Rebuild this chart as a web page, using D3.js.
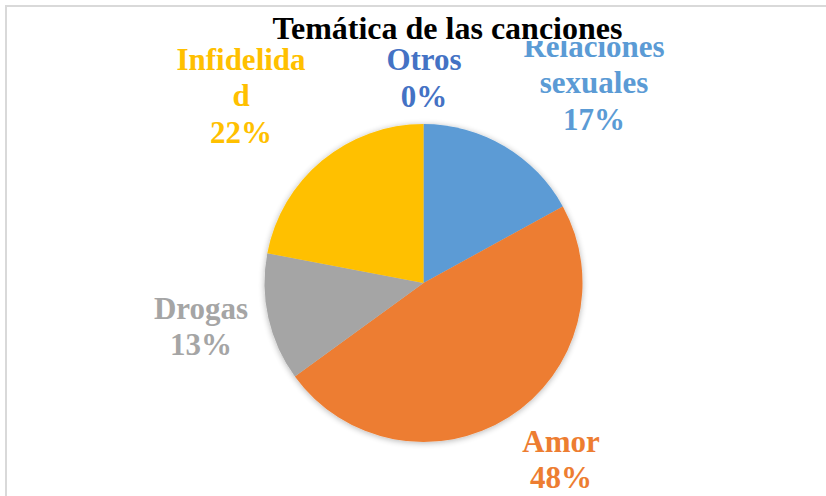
<!DOCTYPE html>
<html><head><meta charset="utf-8">
<script src="https://cdn.jsdelivr.net/npm/d3@7"></script>
<style>body{margin:0;background:#fff}svg{display:block}</style>
</head><body>
<svg id="c" width="826" height="496"></svg>
<script>
const categories = ["Relaciones sexuales","Amor","Drogas","Infidelidad","Otros"];
const values = [17,48,13,22,0];
const colors = ["#5B9BD5","#ED7D31","#A5A5A5","#FFC000","#4472C4"];
const labelLines = [["Relaciones","sexuales","17%"],["Amor","48%"],["Drogas","13%"],["Infidelida","d","22%"],["Otros","0%"]];
const labelPos = [[594,56.5],[561,451.5],[201,318.5],[241,69.5],[424,70]];
const title = "Temática de las canciones";
const FONT = "'Liberation Serif','Times New Roman','DejaVu Serif',serif";

const svg = d3.select("#c");
svg.append("rect").attr("x",6).attr("y",6).attr("width",840).attr("height",510)
  .attr("fill","#fff").attr("stroke","#d9d9d9").attr("stroke-width",2);

const defs = svg.append("defs");
const f = defs.append("filter").attr("id","sh").attr("x","-20%").attr("y","-20%").attr("width","140%").attr("height","140%");
f.append("feGaussianBlur").attr("in","SourceAlpha").attr("stdDeviation",3).attr("result","b");
f.append("feOffset").attr("in","b").attr("dx",0).attr("dy",1).attr("result","o");
f.append("feComponentTransfer").attr("in","o").attr("result","o2").append("feFuncA").attr("type","linear").attr("slope",0.3);
const m = f.append("feMerge"); m.append("feMergeNode").attr("in","o2"); m.append("feMergeNode").attr("in","SourceGraphic");

const cx=423.5, cy=283, r=159;
const pie = d3.pie().sort(null).value(d=>d);
const arc = d3.arc().innerRadius(0).outerRadius(r);
const g = svg.append("g").attr("transform",`translate(${cx},${cy})`).attr("filter","url(#sh)");
g.selectAll("path").data(pie(values)).join("path")
  .attr("d",arc).attr("fill",(d,i)=>colors[i]);

categories.forEach((c,i)=>{
  const t = svg.append("text").attr("text-anchor","middle").attr("font-size",31)
    .attr("font-family",FONT).attr("font-weight","bold").attr("fill",colors[i]);
  labelLines[i].forEach((ln,j)=>{
    t.append("tspan").attr("x",labelPos[i][0]).attr("y",labelPos[i][1]+j*36.6).text(ln);
  });
});

const tg = svg.append("g");
const tbg = tg.append("rect").attr("fill","#fff");
const tt = tg.append("text").attr("x",447.5).attr("y",38.5).attr("text-anchor","middle")
  .attr("font-family",FONT).attr("font-weight","bold")
  .attr("font-size",32).attr("fill","#000").text(title);
const bb = tt.node().getBBox();
tbg.attr("x",bb.x-4).attr("y",12).attr("width",bb.width+8).attr("height",41-12);
</script>
</body></html>
